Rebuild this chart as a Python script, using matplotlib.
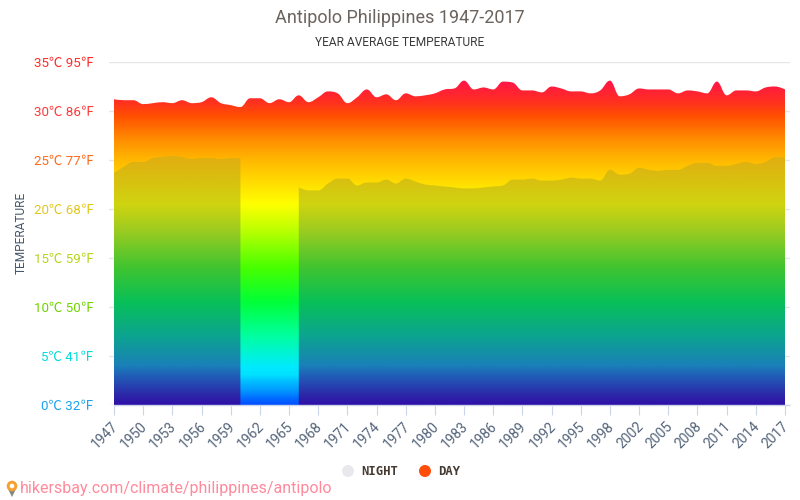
import numpy as np
import matplotlib
matplotlib.use('Agg')
import matplotlib.pyplot as plt
from matplotlib.colors import LinearSegmentedColormap
from matplotlib.patches import Circle, PathPatch, Polygon
from matplotlib.path import Path
from matplotlib.transforms import ScaledTranslation

plt.rcParams['font.family'] = ['Roboto', 'Noto Sans CJK SC', 'DejaVu Sans']

years = list(range(1947, 2001)) + list(range(2002, 2018))

day = [31.2, 31.1, 31.1, 30.7, 30.8, 30.9, 30.8, 31.1, 30.8, 30.9,
       31.4, 30.8, 30.6, 30.4, 31.3, 31.3, 30.8, 31.2, 30.9, 31.6,
       30.9, 31.4, 32.0, 31.8, 30.8, 31.4, 32.2, 31.4, 31.7, 31.1,
       31.8, 31.5, 31.6, 31.8, 32.2, 32.3, 33.1, 32.2, 32.4, 32.2,
       33.0, 32.9, 32.1, 32.1, 31.9, 32.5, 32.3, 32.0, 32.0, 31.8,
       32.1, 33.1, 31.5, 31.7, 32.3, 32.2, 32.2, 32.2, 31.8, 32.1,
       32.0, 31.8, 33.0, 31.6, 32.1, 32.1, 32.0, 32.4, 32.5, 32.2]

night = [23.7, 24.3, 24.8, 24.8, 25.2, 25.3, 25.4, 25.3, 25.1, 25.2,
         25.2, 25.1, 25.2, 25.2, np.nan, np.nan, np.nan, np.nan, np.nan, 22.2,
         21.9, 21.9, 22.6, 23.1, 23.1, 22.4, 22.7, 22.7, 23.0, 22.6,
         23.1, 22.8, 22.5, 22.4, 22.3, 22.2, 22.1, 22.1, 22.2, 22.3,
         22.4, 23.0, 23.0, 23.1, 22.9, 22.9, 23.0, 23.2, 23.1, 23.1,
         22.9, 24.0, 23.5, 23.6, 24.2, 24.0, 23.9, 24.0, 24.0, 24.4,
         24.7, 24.7, 24.4, 24.4, 24.6, 24.8, 24.6, 24.8, 25.3, 25.2]

y_ticks = [0, 5, 10, 15, 20, 25, 30, 35]
y_labels = ['0℃ 32℉', '5℃ 41℉', '10℃ 50℉', '15℃ 59℉',
            '20℃ 68℉', '25℃ 77℉', '30℃ 86℉', '35℃ 95℉']
y_colors = ['#1aa3ee', '#00dcdc', '#6fd400', '#b5d61a',
            '#e3c71a', '#ff6a1a', '#ff3a3a', '#ff2a2a']

# gradient stops, degrees -> colour
day_stops = [(0, '#0050ff'), (0.5, '#0064ff'), (1.5, '#009cff'), (2.4, '#00c0ff'), (3, '#00e0ff'),
             (3.8, '#00eaff'), (7, '#00ffa0'), (10.5, '#00ff38'), (14, '#48ff00'), (18, '#c0ff00'),
             (20.5, '#ffff00'), (22, '#ffe800'), (25, '#ffb800'), (27, '#ff9000'),
             (29.5, '#ff5000'), (31, '#ff3020'), (33.5, '#ff1050'), (35, '#ff1050')]
night_stops = [(0, '#3010a8'), (1, '#2c28a8'), (3, '#2060b8'), (4, '#1a80b8'),
               (7, '#0ca490'), (10.5, '#08c058'), (14, '#40c430'), (18, '#a0cc20'),
               (20.5, '#cfd410'), (25, '#e0b010'), (35, '#e0a810')]


def make_cmap(stops):
    return LinearSegmentedColormap.from_list('grad', [(v / 35, c) for v, c in stops], N=512)


def area_path(xs, ys):
    # same spline idea as the web chart: control points pulled toward neighbours
    n = len(xs)
    verts = [(xs[0], 0), (xs[0], ys[0])]
    codes = [Path.MOVETO, Path.LINETO]
    left = [(xs[i], ys[i]) for i in range(n)]
    right = [(xs[i], ys[i]) for i in range(n)]
    for i in range(1, n - 1):
        lx = (1.5 * xs[i] + xs[i - 1]) / 2.5
        ly = (1.5 * ys[i] + ys[i - 1]) / 2.5
        rx = (1.5 * xs[i] + xs[i + 1]) / 2.5
        ry = (1.5 * ys[i] + ys[i + 1]) / 2.5
        corr = (ry - ly) * (rx - xs[i]) / (rx - lx) + ys[i] - ry
        ly += corr
        ry += corr
        if ly > ys[i - 1] and ly > ys[i]:
            ly = max(ys[i - 1], ys[i])
            ry = 2 * ys[i] - ly
        elif ly < ys[i - 1] and ly < ys[i]:
            ly = min(ys[i - 1], ys[i])
            ry = 2 * ys[i] - ly
        if ry > ys[i + 1] and ry > ys[i]:
            ry = max(ys[i + 1], ys[i])
            ly = 2 * ys[i] - ry
        elif ry < ys[i + 1] and ry < ys[i]:
            ry = min(ys[i + 1], ys[i])
            ly = 2 * ys[i] - ry
        left[i] = (lx, ly)
        right[i] = (rx, ry)
    for i in range(n - 1):
        verts += [right[i], left[i + 1], (xs[i + 1], ys[i + 1])]
        codes += [Path.CURVE4] * 3
    verts += [(xs[-1], 0), (xs[0], 0)]
    codes += [Path.LINETO, Path.CLOSEPOLY]
    return Path(verts, codes)


def series_path(values):
    values = np.array(values, dtype=float)
    idx = np.arange(len(values))
    ok = ~np.isnan(values)
    parts = []
    for seg in np.split(idx[ok], np.where(np.diff(idx[ok]) > 1)[0] + 1):
        parts.append(area_path(seg.astype(float), values[seg]))
    return Path.make_compound_path(*parts)


W, H = 800, 500
fig = plt.figure(figsize=(8, 5), dpi=100)
ax = fig.add_axes([109 / W, 1 - 405 / H, (790 - 109) / W, (405 - 62) / H])

step = (785 - 114) / (len(years) - 1)

for values, stops, z in [(day, day_stops, 2), (night, night_stops, 3)]:
    grad = np.linspace(0, 35, 700)[:, None]
    im = ax.imshow(grad, cmap=make_cmap(stops), vmin=0, vmax=35, origin='lower', aspect='auto',
                   extent=[0, len(years) - 1, 0, 35], zorder=z, interpolation='bilinear')
    patch = PathPatch(series_path(values), transform=ax.transData, fc='none', ec='none')
    ax.add_patch(patch)
    im.set_clip_path(patch)
ax.set_xlim(-5 / step, len(years) - 1 + 5 / step)
ax.set_ylim(0, 35)

for s in ax.spines.values():
    s.set_visible(False)
ax.set_axisbelow(True)
ax.yaxis.grid(True, color='#e6e6e6', linewidth=1)
ax.hlines(0, 0, ax.get_xlim()[1], color='#ccd6eb', linewidth=1, zorder=4, clip_on=False)

ax.set_yticks(y_ticks)
ax.set_yticklabels(y_labels, fontsize=9.6)
ax.tick_params(axis='y', length=0, pad=10.8)
for lab, c in zip(ax.get_yticklabels(), y_colors):
    lab.set_color(c)

tick_idx = np.arange(0, len(years), 3)
ax.set_xticks(tick_idx)
ax.set_xticklabels([str(years[i]) for i in tick_idx], rotation=45, ha='right', rotation_mode='anchor',
                   fontsize=10, color='#54647a')
ax.tick_params(axis='x', length=7.2, width=0.8, color='#ccd6eb', pad=3)
# labels sit a little left of their ticks in the original
shift = ScaledTranslation(-3 / 72 * 0.72, 0, fig.dpi_scale_trans)
for lab in ax.get_xticklabels():
    lab.set_transform(lab.get_transform() + shift)

# overlay in pixel coordinates for the titles, legend and footer
ov = fig.add_axes([0, 0, 1, 1], facecolor='none')
ov.set_xlim(0, W)
ov.set_ylim(H, 0)
ov.axis('off')

ov.text(400, 18, 'Antipolo Philippines 1947-2017', ha='center', va='center', fontsize=13, color='#6b635d')
ov.text(400, 42, 'YEAR AVERAGE TEMPERATURE', ha='center', va='center', fontsize=8.6, color='#3a3a3a')
ov.text(21.5, 233, 'TEMPERATURE', rotation=90, ha='center', va='center', fontsize=8.6, color='#46566a')

ov.add_patch(Circle((348, 471), 6, fc='#e9e9ed', ec='none'))
ov.text(361, 471.5, 'NIGHT', ha='left', va='center', fontsize=8.8, fontweight='bold',
        family='DejaVu Sans Mono', color='#443a32')
ov.add_patch(Circle((425, 471), 6, fc='#ff4d0a', ec='none'))
ov.text(438, 471.5, 'DAY', ha='left', va='center', fontsize=8.8, fontweight='bold',
        family='DejaVu Sans Mono', color='#443a32')

# map pin next to the url
ov.add_patch(Polygon([(7.5, 488), (16.5, 488), (12, 497)], fc='#7f8a80', ec='none'))
ov.add_patch(Circle((12, 486), 5.3, fc='#f5a030', ec='none'))
ov.add_patch(Circle((12, 486), 2.3, fc='white', ec='none'))
ov.text(20, 489, 'hikersbay.com/climate/philippines/antipolo', ha='left', va='center',
        fontsize=11.55, color='#ff8a9c')

fig.savefig('out.png', dpi=100)
